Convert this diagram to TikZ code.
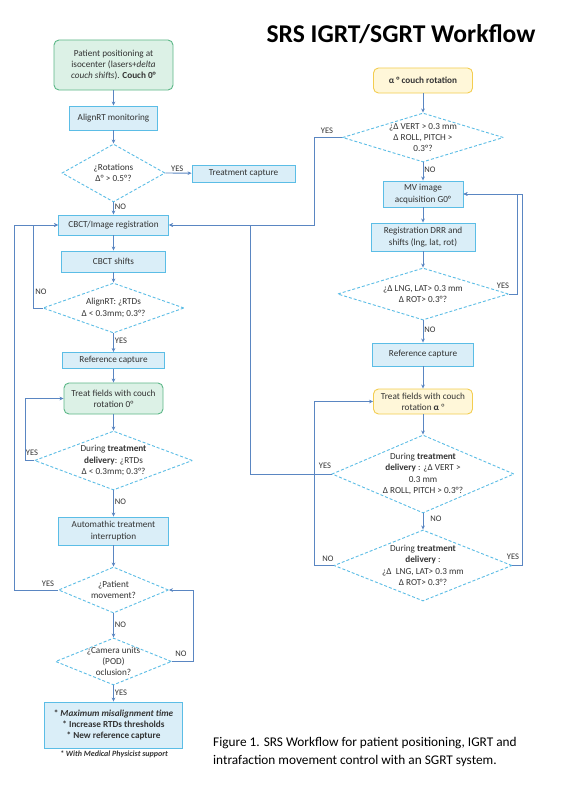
\documentclass[tikz,border=0pt]{standalone}
\usepackage{fontspec}
\setmainfont{Carlito}
\usetikzlibrary{shapes.geometric,arrows.meta}
\definecolor{bfill}{HTML}{DAEEF8}
\definecolor{bdraw}{HTML}{5BBDE6}
\definecolor{gfill}{HTML}{DCF1E6}
\definecolor{gdraw}{HTML}{5DB888}
\definecolor{yfill}{HTML}{FFF7D9}
\definecolor{ydraw}{HTML}{F3CD50}
\definecolor{ddraw}{HTML}{5BBDE6}
\definecolor{lcol}{HTML}{5A86C2}
\definecolor{tcol}{HTML}{333333}
\begin{document}
\begin{tikzpicture}[x=1pt,y=-1pt,
 txt/.style={font=\fontsize{9.2}{11.3}\selectfont, text=tcol, align=center},
 bbox/.style 2 args={txt, rectangle, draw=bdraw, fill=bfill, line width=0.9pt, inner sep=1pt, minimum width=#1, minimum height=#2},
 gbox/.style 2 args={txt, rectangle, rounded corners=5pt, draw=gdraw, fill=gfill, line width=0.9pt, inner sep=1pt, minimum width=#1, minimum height=#2},
 ybox/.style 2 args={txt, rectangle, rounded corners=5pt, draw=ydraw, fill=yfill, line width=0.9pt, inner sep=1pt, minimum width=#1, minimum height=#2},
 dia/.style 2 args={diamond, draw=ddraw, dashed, dash pattern=on 3pt off 2pt, line width=0.9pt, inner sep=0pt, minimum width=#1, minimum height=#2},
 arr/.style={draw=lcol, line width=0.9pt, -{Stealth[length=4pt,width=3.6pt]}},
 lab/.style={font=\fontsize{8.5}{10}\selectfont, text=tcol, inner sep=1pt}
]
\useasboundingbox (0,0) rectangle (566,800);
\fill[white] (0,0) rectangle (566,800);

% title and caption
\node[font=\fontsize{25.6}{30}\selectfont\bfseries, text=black] (title) at (401,34) {SRS IGRT/SGRT Workflow};
\node[font=\fontsize{13.3}{18}\selectfont, text=black, align=left, anchor=north west, inner sep=0pt] (cap) at (213,737.5) {Figure 1. SRS Workflow for patient positioning, IGRT and\\intrafaction movement control with an SGRT system.};

% left column
\node[gbox={119}{50}] (p1) at (113.5,65) {Patient positioning at\\isocenter (lasers+\textit{delta}\\\textit{couch shifts}). \textbf{Couch 0°}};
\node[bbox={88}{24}] (p2) at (113.5,118) {AlignRT monitoring};
\node[dia={103}{58}, label={[txt]center:{¿Rotations\\Δ° > 0.5°?}}] (d1) at (113.5,173) {};
\node[bbox={103}{17}] (tc) at (243.5,173.5) {Treatment capture};
\node[bbox={110}{20}] (cb) at (113.5,225) {CBCT/Image registration};
\node[bbox={104}{21}] (cs) at (113.5,261.5) {CBCT shifts};
\node[dia={141}{50}, label={[txt]center:{AlignRT: ¿RTDs\\Δ < 0.3mm; 0.3°?}}] (d2) at (113.5,308) {};
\node[bbox={102}{16}] (rc1) at (113.5,360.5) {Reference capture};
\node[gbox={99}{31}] (tf0) at (113.5,398.5) {Treat fields with couch\\rotation 0°};
\node[dia={158}{59}, label={[txt]center:{During \textbf{treatment}\\\textbf{delivery}: ¿RTDs\\Δ < 0.3mm; 0.3°?}}] (d3) at (113.5,460.5) {};
\node[bbox={110}{28}] (ai) at (113.5,531) {Automathic treatment\\interruption};
\node[dia={110}{46}, label={[txt]center:{¿Patient\\movement?}}] (d4) at (113.5,590) {};
\node[dia={116}{47}, label={[txt]center:{¿Camera units\\(POD)\\oclusion?}}] (d5) at (113.5,661.5) {};
\node[bbox={138}{46}, font=\fontsize{9.2}{11.3}\selectfont\bfseries] (fb) at (113.5,725) {* \textit{Maximum misalignment time}\\* Increase RTDs thresholds\\* New reference capture};
\node[font=\fontsize{8}{10}\selectfont\bfseries\itshape, text=tcol, inner sep=0pt] (fn) at (114,754.5) {* With Medical Physicist support};

% right column
\node[ybox={99}{25}, font=\fontsize{9.2}{11.3}\selectfont\bfseries] (r1) at (423,80.5) {α ° couch rotation};
\node[dia={161}{49}, label={[txt]center:{¿Δ VERT > 0.3 mm\\Δ ROLL, PITCH >\\0.3°?}}] (rd1) at (423,137.5) {};
\node[bbox={80}{26}] (mv) at (423,194) {MV image\\acquisition G0°};
\node[bbox={104}{28}] (rg) at (423,237) {Registration DRR and\\shifts (lng, lat, rot)};
\node[dia={171}{52}, label={[txt]center:{¿Δ LNG, LAT> 0.3 mm\\Δ ROT> 0.3°?}}] (rd2) at (423,294) {};
\node[bbox={101}{23}] (rc2) at (423,354.5) {Reference capture};
\node[ybox={99}{25}] (tfa) at (423,401.5) {Treat fields with couch\\rotation \textbf{α} °};
\node[dia={182}{78}, label={[txt]center:{During \textbf{treatment}\\\textbf{delivery} : ¿Δ VERT >\\0.3 mm\\Δ ROLL, PITCH > 0.3°?}}] (rd3) at (423,474) {};
\node[dia={178}{71}, label={[txt]center:{During \textbf{treatment}\\\textbf{delivery} :\\¿Δ~ LNG, LAT> 0.3 mm\\Δ ROT> 0.3°?}}] (rd4) at (423,565.5) {};

% helper x positions
\coordinate (xa) at (14,0);
\coordinate (xb) at (33,0);
\coordinate (xc) at (25,0);
\coordinate (xd) at (193,0);
\coordinate (xe) at (250,0);
\coordinate (xf) at (314,0);
\coordinate (xg) at (517,0);
\coordinate (xh) at (522,0);

% left connectors
\draw[arr] (p1) -- (p2);
\draw[arr] (p2) -- (d1);
\draw[arr] (d1.east) -- node[lab, above, pos=0.45] {YES} (tc);
\draw[arr] (d1.south) -- node[lab, right, pos=0.35] {NO} (cb);
\draw[arr] (cb) -- (cs);
\draw[arr] (cs) -- (d2);
\draw[arr] (d2.south) -- node[lab, right, pos=0.4] {YES} (rc1);
\draw[arr] (rc1) -- (tf0);
\draw[arr] (tf0) -- (d3);
\draw[arr] (d3.south) -- node[lab, right, pos=0.45] {NO} (ai);
\draw[arr] (ai) -- (d4);
\draw[arr] (d4.south) -- node[lab, right, pos=0.45] {NO} (d5);
\draw[arr] (d5.south) -- node[lab, right, pos=0.45] {YES} (fb);
\draw[arr] (d2.west) -- (d2.west -| xb) |- (cb.west);
\node[lab] (l1) at (41,292) {NO};
\draw[arr] (d4.west) -- (d4.west -| xa) |- (cb.west);
\node[lab] (l2) at (48,584) {YES};
\draw[arr] (d3.west) -- (d3.west -| xc) |- (tf0.west);
\node[lab] (l3) at (32,453) {YES};
\draw[arr] (d5.east) -- (d5.east -| xd) |- (d4.east);
\node[lab] (l4) at (181,654) {NO};

% right connectors
\draw[arr] (r1) -- (rd1);
\draw[arr] (rd1.south) -- node[lab, right, pos=0.4] {NO} (mv);
\draw[arr] (mv) -- (rg);
\draw[arr] (rg) -- (rd2);
\draw[arr] (rd2.south) -- node[lab, right, pos=0.4] {NO} (rc2);
\draw[arr] (rc2) -- (tfa);
\draw[arr] (tfa) -- (rd3);
\draw[arr] (rd3.south) -- node[lab, right, pos=0.35, xshift=6pt] {NO} (rd4);
\draw[arr] (rd1.west) -- (rd1.west -| xf) |- (cb.east);
\node[lab] (l5) at (327,131) {YES};
\draw[arr] (rd3.west) -- (rd3.west -| xe) |- (cb.east);
\node[lab] (l6) at (325,466) {YES};
\draw[arr] (rd2.east) -- (rd2.east -| xg) |- (mv.east);
\node[lab] (l7) at (503,286) {YES};
\draw[arr] (rd4.east) -- (rd4.east -| xh) |- (mv.east);
\node[lab] (l8) at (513,557) {YES};
\draw[arr] (rd4.west) -- (rd4.west -| xf) |- (tfa.west);
\node[lab] (l9) at (328,559) {NO};
\end{tikzpicture}
\end{document}
